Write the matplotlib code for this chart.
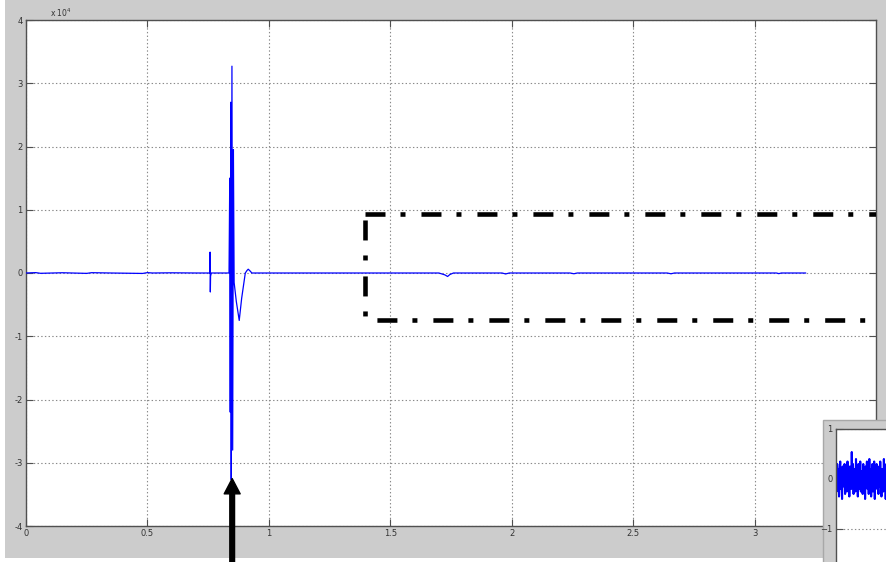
import matplotlib
matplotlib.use("Agg")
import matplotlib.pyplot as plt
from matplotlib.patches import Rectangle
from matplotlib.ticker import FuncFormatter

plt.rcParams['font.family'] = ['DejaVu Sans']
plt.rcParams['lines.scale_dashes'] = False

# ---- main trace (time in s, amplitude) ----
t = [0.000, 0.040, 0.060, 0.150, 0.250, 0.270, 0.350, 0.480, 0.500, 0.520,
     0.600, 0.700, 0.757, 0.758, 0.759, 0.760, 0.763, 0.800, 0.836, 0.839,
     0.841, 0.843, 0.845, 0.848, 0.851, 0.854, 0.857, 0.866, 0.878,
     0.888, 0.903, 0.910, 0.915, 0.922, 0.930, 0.960, 1.200, 1.700, 1.725,
     1.736, 1.745, 1.760, 1.960, 1.975, 1.990, 2.240, 2.256, 2.270, 2.640,
     2.656, 2.670, 3.090, 3.100, 3.110, 3.210]
v = [0, 60, -50, 40, -60, 50, 0, -70, 60, 0,
     30, 0, 0, 3300, -3000, -500, 0, 0, 0, 15000,
     -22000, 27000, -32700, 32700, -28000, 19500, -1500, -4500, -7500,
     -4000, 0, 400, 600, 350, 0, 0, 0, 0, -300,
     -550, -250, 0, 0, -150, 0, 0, -120, 0, 0,
     -120, 0, 0, -100, 0, 0]

# ---- zoomed-in noise trace ----
noise = [0.05, -0.25, 0.30, -0.10, 0.20, -0.35, 0.15, 0.35, -0.20, 0.10,
         -0.40, 0.25, 0.05, -0.15, 0.30, -0.30, 0.20, 0.00, -0.25, 0.35,
         -0.05, 0.15, -0.35, 0.25, 0.10, -0.20, 0.54, -0.10, 0.30, -0.30,
         0.20, 0.05, -0.25, 0.40, -0.15, 0.10, -0.35, 0.30, 0.00, -0.20,
         0.35, -0.25, 0.15, 0.05, -0.30, 0.30, -0.10, 0.20, -0.40, 0.25,
         -0.05, 0.35, -0.20, 0.10, -0.30, 0.40, -0.15, 0.20, -0.35, 0.15,
         0.30, -0.25, 0.05, 0.35, -0.40, 0.20, -0.10, 0.30, -0.20, 0.10,
         -0.30, 0.25, -0.15, 0.35, -0.05, -0.35, 0.20, 0.10, -0.25, 0.40,
         -0.20, 0.15, -0.40, 0.30, 0.00, -0.15, 0.35, -0.30, 0.20, -0.10,
         0.25, -0.35, 0.10, 0.30, -0.25, 0.15, -0.05, 0.35, -0.30, 0.20]

x_ticks = [0, 0.5, 1, 1.5, 2, 2.5, 3]
x_tick_labels = ['0', '0.5', '1', '1.5', '2', '2.5', '3']
y_ticks = [-40000, -30000, -20000, -10000, 0, 10000, 20000, 30000, 40000]
inset_ticks = [-1, 0, 1]

# region of interest box (time, amplitude)
box_t0, box_t1 = 1.394, 3.7
box_top, box_bot = 9300, -7400

W, H = 887, 562
fig = plt.figure(figsize=(W / 100, H / 100), dpi=100, facecolor='white')

gray = '#cccccc'
fig.patches.append(Rectangle((5 / W, 4 / H), 1, 1, transform=fig.transFigure,
                             facecolor=gray, edgecolor='none', zorder=-5))

spine_c = '#505050'
text_c = '#333333'

ax = fig.add_axes([26 / W, (H - 526) / H, (876 - 26) / W, (526 - 20) / H], zorder=0)
ax.set_facecolor('white')
ax.plot(t, v, color='#0000ff', lw=0.9, zorder=3)
ax.set_xlim(0, 3.5)
ax.set_ylim(-40000, 40000)
ax.set_xticks(x_ticks)
ax.set_xticklabels(x_tick_labels)
ax.set_yticks(y_ticks)
ax.yaxis.set_major_formatter(FuncFormatter(lambda y, p: f'{y / 1e4:g}'))
ax.grid(True, ls=':', lw=0.8, color='#8a8a8a')
ax.tick_params(direction='in', length=5, width=0.8, color=spine_c,
               labelsize=6, labelcolor=text_c, pad=2.5,
               top=True, right=True)
for s in ax.spines.values():
    s.set_color(spine_c)
    s.set_linewidth(1.0)

# dash-dot region box (clipped at the right edge of the axes)
pattern = (14.4, 10.8, 3.6, 11.5)
ax.plot([box_t0, box_t1], [box_top, box_top], color='black', lw=3.3,
        zorder=4, dash_capstyle='butt', linestyle=(0, pattern))
ax.plot([box_t0, box_t0, box_t1], [box_top, box_bot, box_bot],
        color='black', lw=3.3, zorder=4, dash_capstyle='butt',
        dash_joinstyle='miter', linestyle=(36, pattern))

# exponent label
fig.text(50 / W, (H - 13) / H, r'x 10$^{4}$', fontsize=5.5, color=text_c,
         ha='left', va='center')

# arrow pointing at the main spike
ax.annotate('', xy=(0.849, -32500), xytext=(0.849, -47000),
            arrowprops=dict(facecolor='black', edgecolor='black', width=3.4,
                            headwidth=11.5, headlength=11, shrink=0),
            annotation_clip=False, zorder=6)

# zoomed view panel
fig.patches.append(Rectangle((823 / W, -0.01), 1, (H - 420) / H + 0.01,
                             transform=fig.transFigure, facecolor=gray,
                             edgecolor='#a8a8a8', lw=1.0, zorder=1))
axi = fig.add_axes([836 / W, (H - 564) / H, 60 / W, 135 / H], zorder=2)
axi.set_facecolor('white')
axi.plot(range(len(noise)), noise, color='#0000ff', lw=1.5)
axi.set_xlim(0, len(noise) - 1)
axi.set_ylim(-1.7, 1)
axi.set_yticks(inset_ticks)
axi.set_xticks([])
axi.grid(True, axis='y', ls=':', lw=0.8, color='#8a8a8a')
axi.tick_params(direction='in', length=5, width=0.8, color=spine_c,
                labelsize=6, labelcolor=text_c, pad=2.5)
for s in axi.spines.values():
    s.set_color(spine_c)
    s.set_linewidth(1.0)

fig.savefig('out.png', dpi=100, facecolor=fig.get_facecolor())
